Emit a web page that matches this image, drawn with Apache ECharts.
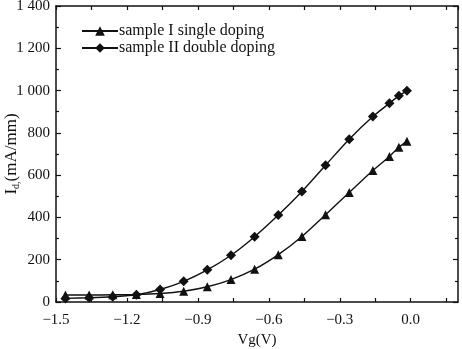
<!DOCTYPE html>
<html><head><meta charset="utf-8">
<script src="https://cdn.jsdelivr.net/npm/echarts@6/dist/echarts.min.js"></script>
<style>html,body{margin:0;padding:0;background:#fff}#c{width:462px;height:349px}</style>
</head><body><div id="c"></div>
<script>
const vg = [-1.46, -1.36, -1.26, -1.16, -1.06, -0.96, -0.86, -0.76, -0.66, -0.56, -0.46, -0.36, -0.26, -0.16, -0.09, -0.05, -0.016];
const sampleI = [33, 33, 34, 35, 40, 51, 72, 106, 155, 224, 310, 413, 518, 622, 688, 732, 760];
const sampleII = [17, 20, 25, 34, 59, 98, 152, 221, 309, 411, 523, 647, 770, 877, 940, 975, 999];
const seriesNames = ['sample I single doping', 'sample II double doping'];
const xTickLabels = [-1.5, -1.2, -0.9, -0.6, -0.3, 0.0];

const FONT = 'Liberation Serif';
const C = '#111';
function fmtX(v){
  for (const t of xTickLabels){ if (Math.abs(v - t) < 1e-6) return t.toFixed(1).replace('-', '\u2212'); }
  return '';
}
function fmtY(v){
  if (v >= 1000) { const s = String(v); return s.slice(0, s.length-3) + ' ' + s.slice(-3); }
  return String(v);
}
const axisCommonX = {
  type: 'value', min: -1.5, max: 0.2, interval: 0.15,
  axisLine: {onZero: false, lineStyle: {color: C, width: 1.5}},
  axisTick: {inside: true, length: 4, lineStyle: {color: C, width: 1.2}},
  splitLine: {show: false}
};
const axisCommonY = {
  type: 'value', min: 0, max: 1400, interval: 200,
  axisLine: {onZero: false, lineStyle: {color: C, width: 1.5}},
  axisTick: {inside: true, length: 5, lineStyle: {color: C, width: 1.2}},
  minorTick: {show: true, splitNumber: 2, length: 3, lineStyle: {color: C, width: 1.2}},
  splitLine: {show: false}
};
const chart = echarts.init(document.getElementById('c'), null, {renderer: 'canvas'});
chart.setOption({
  animation: false,
  backgroundColor: '#fff',
  textStyle: {fontFamily: FONT},
  grid: {left: 56, top: 6, right: 4, bottom: 47, containLabel: false, outerBoundsMode: 'none'},
  legend: {
    left: 76, top: 18, orient: 'vertical', itemGap: 1, itemWidth: 36, itemHeight: 12,
    textStyle: {fontFamily: FONT, fontSize: 16, color: C, padding: [0,0,0,-4]},
    data: seriesNames
  },
  xAxis: [
    Object.assign({}, axisCommonX, {
      position: 'bottom',
      axisLabel: {formatter: fmtX, fontFamily: FONT, fontSize: 15, color: C, margin: 11, showMaxLabel: false},
      name: 'Vg(V)', nameLocation: 'middle', nameGap: 31, nameMoveOverlap: false,
      nameTextStyle: {fontFamily: FONT, fontSize: 15, color: C}
    }),
    Object.assign({}, axisCommonX, {position: 'top', axisLabel: {show: false}})
  ],
  yAxis: [
    Object.assign({}, axisCommonY, {
      position: 'left',
      axisLabel: {formatter: fmtY, fontFamily: FONT, fontSize: 15, color: C, margin: 6},
      name: 'I{sub|d,}(mA/mm)', nameLocation: 'middle', nameGap: 35, nameRotate: 90, nameMoveOverlap: false,
      nameTextStyle: {fontFamily: FONT, fontSize: 17, color: C,
        rich: {sub: {fontFamily: FONT, fontSize: 10, color: C, padding: [9,0,0,0]}}}
    }),
    Object.assign({}, axisCommonY, {position: 'right', axisLabel: {show: false}})
  ],
  series: [
    {
      name: seriesNames[0], type: 'line', smooth: 0.3,
      data: vg.map((x, i) => [x, sampleI[i]]),
      symbol: 'triangle', symbolSize: 9, showAllSymbol: true,
      lineStyle: {color: C, width: 1.4}, itemStyle: {color: C}
    },
    {
      name: seriesNames[1], type: 'line', smooth: 0.3,
      data: vg.map((x, i) => [x, sampleII[i]]),
      symbol: 'diamond', symbolSize: 10, showAllSymbol: true,
      lineStyle: {color: C, width: 1.4}, itemStyle: {color: C}
    }
  ]
});
</script></body></html>
